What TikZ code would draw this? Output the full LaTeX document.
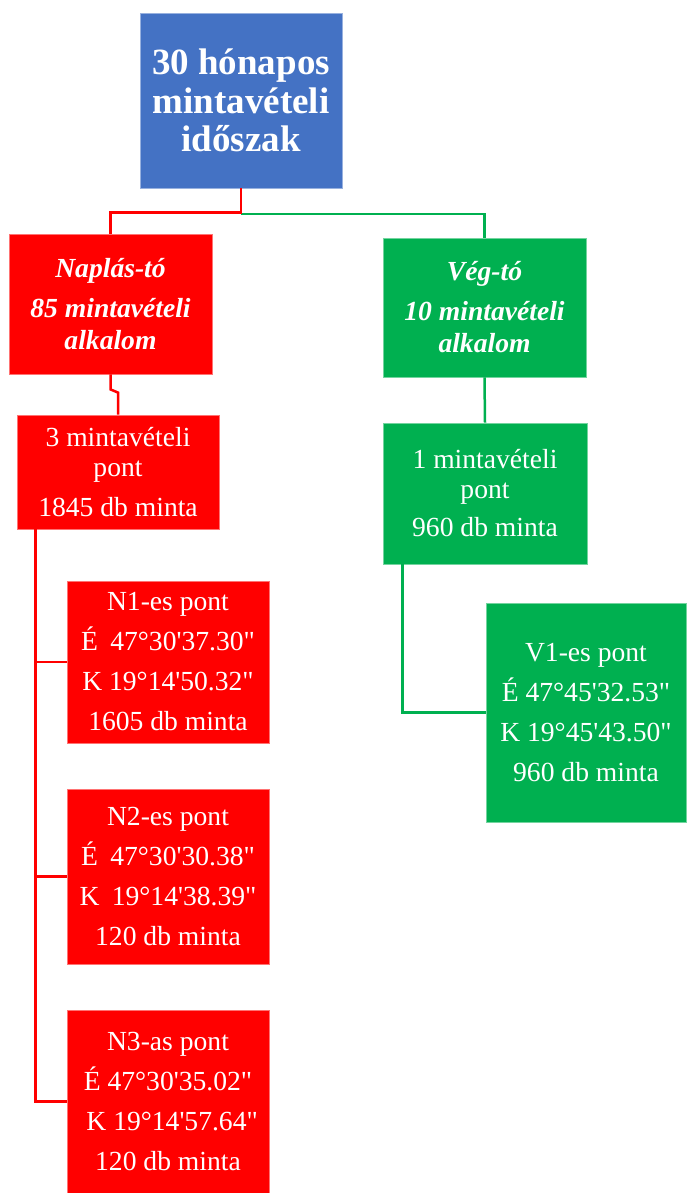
\documentclass[tikz,border=0pt]{standalone}
\usepackage{fontspec}
\setmainfont{Liberation Serif}[Ligatures=TeXOff]
\definecolor{cred}{HTML}{FF0000}
\definecolor{cgreen}{HTML}{00B050}
\definecolor{cblue}{HTML}{4472C4}
\begin{document}
\begin{tikzpicture}[x=1pt,y=-1pt,
  box/.style={rectangle, inner sep=0pt, align=center, text=white,
    font=\fontsize{27.6}{30}\selectfont, line width=0.8pt},
  rbox/.style={box, fill=cred, draw=cred!55!white},
  gbox/.style={box, fill=cgreen, draw=cgreen!55!white},
  nbox/.style={rbox, font=\fontsize{27.6}{40}\selectfont},
  rline/.style={draw=cred, line width=2.5pt},
  gline/.style={draw=cgreen, line width=2.5pt}]
\useasboundingbox (0,0) rectangle (686,1193);

\node[box, fill=cblue, draw=cblue!55!white, minimum width=202pt, minimum height=175pt,
  font=\fontsize{37}{38.5}\selectfont\bfseries] (top) at (241,100.5)
  {30 hónapos\\mintavételi\\időszak};

\node[rbox, minimum width=203pt, minimum height=140pt,
  font=\fontsize{27.6}{32}\selectfont\bfseries\itshape] (napl) at (110.5,304)
  {Naplás-tó\\[8pt]85 mintavételi\\alkalom};
\node[gbox, minimum width=203pt, minimum height=139pt,
  font=\fontsize{27.6}{32}\selectfont\bfseries\itshape] (veg) at (484.5,307.5)
  {Vég-tó\\[8pt]10 mintavételi\\alkalom};

\node[rbox, minimum width=202pt, minimum height=114pt] (p3) at (118,472)
  {3 mintavételi\\pont\\[10pt]1845 db minta};
\node[gbox, minimum width=204pt, minimum height=141pt] (p1) at (485,493.5)
  {1 mintavételi\\pont\\[8pt]960 db minta};

\node[nbox, minimum width=202pt, minimum height=162pt] (n1) at (168,662)
  {N1-es pont\\É\hspace{0.45em}47°30'37.30"\\K 19°14'50.32"\\1605 db minta};
\node[nbox, minimum width=202pt, minimum height=175pt] (n2) at (168,876.5)
  {N2-es pont\\É\hspace{0.45em}47°30'30.38"\\K\hspace{0.45em}19°14'38.39"\\120 db minta};
\node[nbox, minimum width=202pt, minimum height=183pt] (n3) at (168,1101.5)
  {N3-as pont\\É 47°30'35.02"\\\hspace{0.3em}K 19°14'57.64"\\120 db minta};

\node[gbox, minimum width=200pt, minimum height=219pt,
  font=\fontsize{27.6}{40}\selectfont] (v1) at (586,712.5)
  {V1-es pont\\É 47°45'32.53"\\K 19°45'43.50"\\960 db minta};

% connectors
\coordinate (j) at (241,214);
\draw[gline] (j) -| (veg.north);
\draw[rline] (top.south) -- ++(0,24) -| (napl.north);
\draw[rline] (napl.south) -- ++(0,15) -- ([yshift=22pt]p3.north) -- (p3.north);
\draw[gline] (veg.south) -- (p1.north);
\draw[rline] ([xshift=19pt]p3.south west) |- (n1.west);
\draw[rline] ([xshift=19pt]p3.south west) |- (n2.west);
\draw[rline] ([xshift=19pt]p3.south west) |- (n3.west);
\draw[gline] ([xshift=20pt]p1.south west) |- (v1.west);
\end{tikzpicture}
\end{document}
